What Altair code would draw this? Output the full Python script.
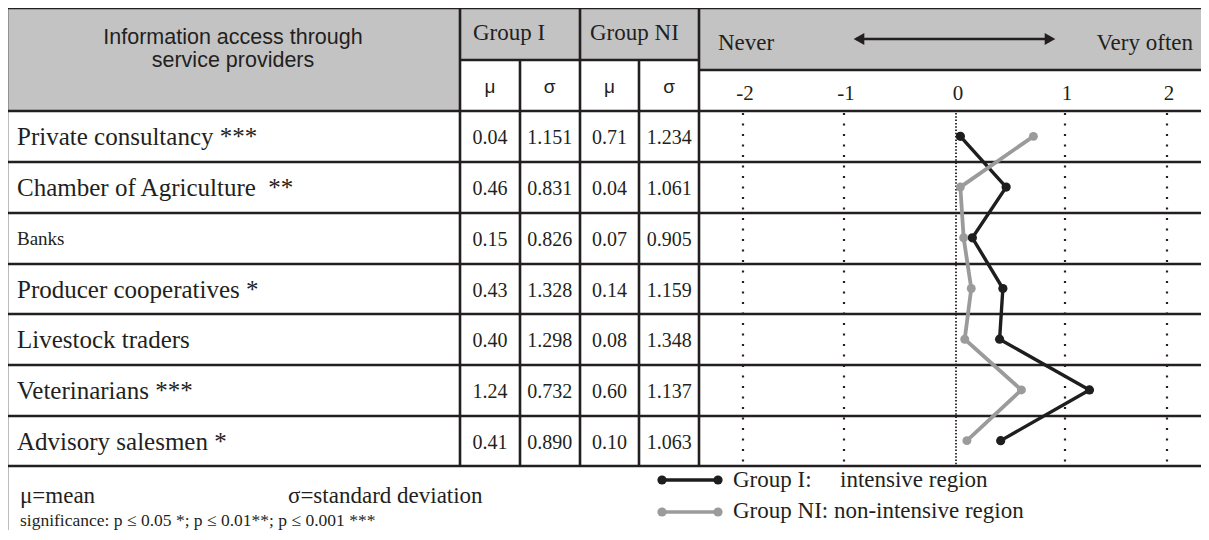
import altair as alt
import pandas as pd

# ---------------- data ----------------
categories = ["Private consultancy ***", "Chamber of Agriculture\u00a0 **", "Banks",
              "Producer cooperatives *", "Livestock traders", "Veterinarians ***",
              "Advisory salesmen *"]
group_i_mean = [0.04, 0.46, 0.15, 0.43, 0.40, 1.24, 0.41]
group_i_sd = [1.151, 0.831, 0.826, 1.328, 1.298, 0.732, 0.890]
group_ni_mean = [0.71, 0.04, 0.07, 0.14, 0.08, 0.60, 0.10]
group_ni_sd = [1.234, 1.061, 0.905, 1.159, 1.348, 1.137, 1.063]
groups = ["Group I", "Group NI"]
scale_ticks = [-2, -1, 0, 1, 2]
tick_labels = ["-2", "-1", "0", "1", "2"]
stat_columns = ["Group I mean", "Group I sd", "Group NI mean", "Group NI sd"]
stat_symbols = ["\u03bc", "\u03c3", "\u03bc", "\u03c3"]
header_title = ["Information access through", "service providers"]

# ---------------- style / layout (page pixels) ----------------
SERIF = "Liberation Serif"
SANS = "Liberation Sans"
INK = "#231f20"
HEAD = "#c3c3c3"
COLORS = ["#1e1e1e", "#9b9b9b"]
W, H = 1193, 522

SX = alt.Scale(domain=[0, 1209], range=[-8, 1201], nice=False, zero=False)
SY = alt.Scale(domain=[0, 540], range=[-8, 532], nice=False, zero=False)
PXS = alt.Scale(domain=scale_ticks, range=[735, 836, 948, 1057, 1159], nice=False, zero=False)
RY = alt.Scale(type="point", domain=categories, range=[103, 458], padding=0.5)
CX = alt.Scale(type="point", domain=stat_columns, range=[452, 691], padding=0.5)

row_edges = [111, 162, 213, 264, 314, 365, 416, 466]
grey_cells = pd.DataFrame([(7, 460, 8, 111), (460, 699, 8, 60), (699, 1209, 8, 70)],
                          columns=["x", "x2", "y", "y2"])
segs = [(7, 1209, 8, 8)] + [(7, 1209, y, y) for y in row_edges]
segs += [(460, 699, 60, 60), (699, 1209, 70, 70)]
segs += [(7, 7, 8, 540), (460, 460, 8, 466), (520, 520, 60, 466), (580, 580, 8, 466),
         (639, 639, 60, 466), (699, 699, 8, 466)]
lines_df = pd.DataFrame(segs, columns=["x", "x2", "y", "y2"])


def X(f="x"):
    return alt.X(f"{f}:Q", scale=SX, axis=None)


def Y(f="y"):
    return alt.Y(f"{f}:Q", scale=SY, axis=None)


def texts(rows, font, align="left", baseline="alphabetic"):
    df = pd.DataFrame(rows, columns=["t", "x", "y", "s"])
    return alt.Chart(df).mark_text(font=font, align=align, baseline=baseline, color=INK).encode(
        x=X(), y=Y(), text="t:N", size=alt.Size("s:Q", scale=None, legend=None))


grey = alt.Chart(grey_cells).mark_rect(color=HEAD).encode(x=X(), x2="x2:Q", y=Y(), y2="y2:Q")
grid_lines = alt.Chart(lines_df).mark_rule(color=INK, strokeWidth=2.6).encode(
    x=X(), x2="x2:Q", y=Y(), y2="y2:Q")

head_sans = alt.Chart(pd.DataFrame({"x": [233], "y": [38]})).mark_text(
    font=SANS, fontSize=21.5, lineHeight=23, align="center", baseline="middle", color=INK).encode(
    x=X(), y=Y(), text=alt.value(header_title))
head_serif = texts([("Group I", 473, 40, 23), ("Group NI", 590, 40, 23), ("Never", 718, 50, 23),
                    ("\u03bc=mean", 20, 503, 23), ("\u03c3=standard deviation", 288, 503, 23),
                    ("significance: p \u2264 0.05 *; p \u2264 0.01**; p \u2264 0.001 ***", 20, 526, 17.5),
                    ("Group I:", 733, 487, 23), ("intensive region", 840, 487, 23),
                    ("Group NI: non-intensive region", 733, 518, 23)], SERIF, "left")
head_right = texts([("Very often", 1193, 50, 23)], SERIF, "right")

# arrow
arrow = alt.Chart(pd.DataFrame({"x": [856], "x2": [1052], "y": [39]})).mark_rule(
    color=INK, strokeWidth=2.6).encode(x=X(), x2="x2:Q", y=Y())
arrow_l = alt.Chart(pd.DataFrame({"x": [859], "y": [39]})).mark_point(
    shape="triangle-left", filled=True, size=150, color=INK, opacity=1).encode(x=X(), y=Y())
arrow_r = alt.Chart(pd.DataFrame({"x": [1050], "y": [39]})).mark_point(
    shape="triangle-right", filled=True, size=150, color=INK, opacity=1).encode(x=X(), y=Y())

# column symbols
sym_df = pd.DataFrame({"col": stat_columns, "sym": stat_symbols})
symbols = alt.Chart(sym_df).mark_text(font=SANS, fontSize=19, color=INK, baseline="alphabetic").encode(
    x=alt.X("col:N", scale=CX, axis=None), y=alt.value(93 - 8), text="sym:N")

# tick labels
tick_df = pd.DataFrame({"t": scale_ticks, "lab": tick_labels})
tick_text = alt.Chart(tick_df).mark_text(font=SERIF, fontSize=21, color=INK, baseline="alphabetic", dx=2).encode(
    x=alt.X("t:Q", scale=PXS, axis=None), y=alt.value(100 - 8), text="lab:N")

# dotted reference lines
dots = alt.Chart(tick_df[tick_df.t != 0]).mark_rule(color=INK, strokeWidth=2.2, strokeDash=[2, 8.5]).encode(
    x=alt.X("t:Q", scale=PXS, axis=None), y=alt.value(113 - 8), y2=alt.value(465 - 8))
dots0 = alt.Chart(tick_df[tick_df.t == 0]).mark_rule(color=INK, strokeWidth=1.8, strokeDash=[1.5, 1.8]).encode(
    x=alt.X("t:Q", scale=PXS, axis=None), y=alt.value(113 - 8), y2=alt.value(465 - 8))

# row labels
label_sizes = [25, 25, 19, 25, 25, 25, 25]
lab_df = pd.DataFrame({"cat": categories, "s": label_sizes})
labels = alt.Chart(lab_df).mark_text(font=SERIF, align="left", baseline="middle", color=INK, dy=1).encode(
    x=alt.value(17 - 8), y=alt.Y("cat:N", scale=RY, axis=None), text="cat:N",
    size=alt.Size("s:Q", scale=None, legend=None))

# numbers
num_rows = []
for i, c in enumerate(categories):
    num_rows += [(c, stat_columns[0], f"{group_i_mean[i]:.2f}"), (c, stat_columns[1], f"{group_i_sd[i]:.3f}"),
                 (c, stat_columns[2], f"{group_ni_mean[i]:.2f}"), (c, stat_columns[3], f"{group_ni_sd[i]:.3f}")]
num_df = pd.DataFrame(num_rows, columns=["cat", "col", "v"])
numbers = alt.Chart(num_df).mark_text(font=SERIF, fontSize=20, baseline="middle", color=INK, dy=2).encode(
    x=alt.X("col:N", scale=CX, axis=None), y=alt.Y("cat:N", scale=RY, axis=None), text="v:N")

# profile lines
means = pd.DataFrame({"cat": categories * 2, "idx": list(range(len(categories))) * 2,
                      "group": [groups[0]] * len(categories) + [groups[1]] * len(categories),
                      "mean": group_i_mean + group_ni_mean})
color = alt.Color("group:N", scale=alt.Scale(domain=groups, range=COLORS), legend=None)
enc = dict(x=alt.X("mean:Q", scale=PXS, axis=None), y=alt.Y("cat:N", scale=RY, axis=None), color=color)
gi_line = alt.Chart(means[means.group == groups[0]]).mark_line(strokeWidth=3.4).encode(order="idx:Q", **enc)
gi_pts = alt.Chart(means[means.group == groups[0]]).mark_circle(size=85, opacity=1).encode(**enc)
ni_line = alt.Chart(means[means.group == groups[1]]).mark_line(strokeWidth=3.8).encode(order="idx:Q", **enc)
ni_pts = alt.Chart(means[means.group == groups[1]]).mark_circle(size=80, opacity=1).encode(**enc)

# legend
leg_df = pd.DataFrame({"group": groups, "x": [662, 662], "x2": [718, 718], "y": [480, 512]})
leg_line = alt.Chart(leg_df).mark_rule(strokeWidth=3.4).encode(x=X(), x2="x2:Q", y=Y(), color=color)
leg_p1 = alt.Chart(leg_df).mark_circle(size=85, opacity=1).encode(x=X(), y=Y(), color=color)
leg_p2 = alt.Chart(leg_df).mark_circle(size=85, opacity=1).encode(x=X("x2"), y=Y(), color=color)

chart = alt.layer(
    grey, dots, dots0, grid_lines, head_sans, head_serif, head_right, arrow, arrow_l, arrow_r,
    symbols, tick_text, labels, numbers, gi_line, gi_pts, ni_line, ni_pts, leg_line, leg_p1, leg_p2
).resolve_scale(x="independent", y="independent").properties(
    width=W, height=H, autosize=alt.AutoSizeParams(type="none"), padding=0, background="white"
).configure_view(strokeWidth=0)

chart.save("out.html", embed_options={"renderer": "svg", "actions": False})
